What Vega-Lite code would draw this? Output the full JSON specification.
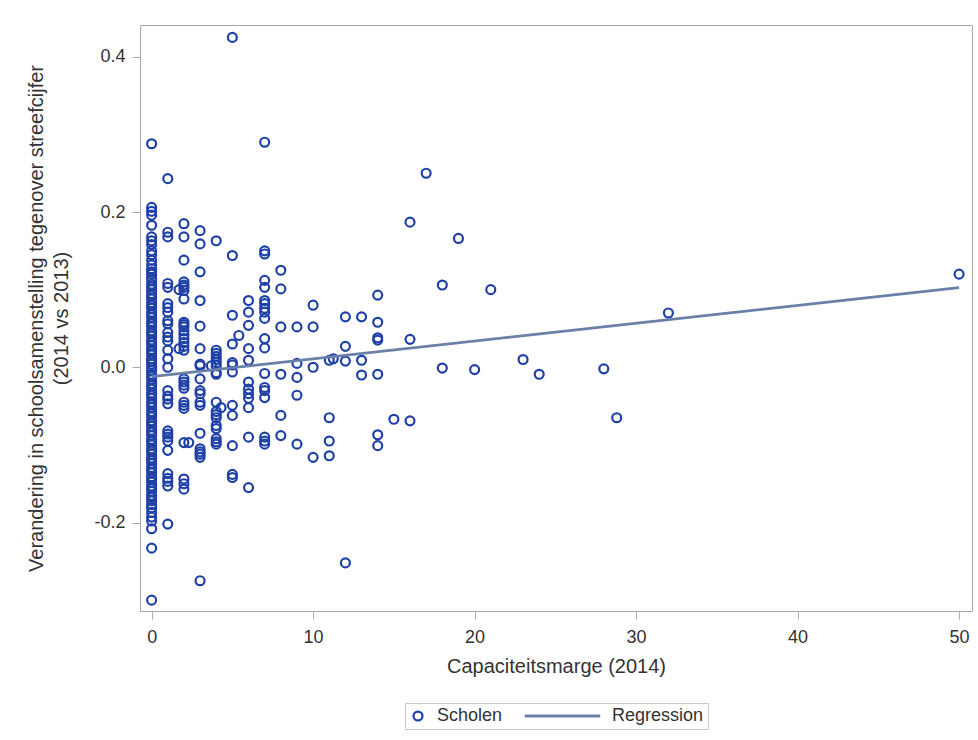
{
  "$schema": "https://vega.github.io/schema/vega-lite/v6.json",
  "width": 832,
  "height": 586,
  "autosize": {"type": "none"},
  "padding": {"left": 140, "top": 25, "right": 6, "bottom": 129},
  "background": "white",
  "config": {
    "font": "Liberation Sans",
    "view": {"stroke": "#a8a8a8", "strokeWidth": 1},
    "axis": {
      "domain": false,
      "grid": false,
      "tickColor": "#a8a8a8",
      "tickSize": 8,
      "labelFontSize": 18,
      "labelColor": "#333333",
      "titleFontSize": 20,
      "titleColor": "#333333",
      "titleFontWeight": "normal"
    },
    "legend": {
      "labelFontSize": 18,
      "labelColor": "#333333",
      "labelFont": "Liberation Sans",
      "clipHeight": 18,
      "layout": {"bottom": {"anchor": "middle"}}
    }
  },
  "datasets": {
    "scholen": [
      {"x":0,"y":0.288},{"x":0,"y":0.206},{"x":0,"y":0.201},{"x":0,"y":0.196},{"x":0,"y":0.183},{"x":0,"y":0.168},{"x":0,"y":0.163},{"x":0,"y":0.158},{"x":0,"y":0.150},{"x":0,"y":0.145},{"x":0,"y":0.138},{"x":0,"y":0.132},{"x":0,"y":0.127},{"x":0,"y":0.123},{"x":0,"y":0.120},{"x":0,"y":0.115},{"x":0,"y":0.112},{"x":0,"y":0.107},{"x":0,"y":0.104},{"x":0,"y":0.100},{"x":0,"y":0.095},{"x":0,"y":0.092},{"x":0,"y":0.088},{"x":0,"y":0.083},{"x":0,"y":0.080},{"x":0,"y":0.076},{"x":0,"y":0.071},{"x":0,"y":0.068},{"x":0,"y":0.064},{"x":0,"y":0.059},{"x":0,"y":0.056},{"x":0,"y":0.052},{"x":0,"y":0.047},{"x":0,"y":0.044},{"x":0,"y":0.040},{"x":0,"y":0.035},{"x":0,"y":0.032},{"x":0,"y":0.028},{"x":0,"y":0.023},{"x":0,"y":0.020},{"x":0,"y":0.016},{"x":0,"y":0.011},{"x":0,"y":0.008},{"x":0,"y":0.004},{"x":0,"y":0.000},{"x":0,"y":-0.004},{"x":0,"y":-0.009},{"x":0,"y":-0.012},{"x":0,"y":-0.016},{"x":0,"y":-0.021},{"x":0,"y":-0.024},{"x":0,"y":-0.028},{"x":0,"y":-0.033},{"x":0,"y":-0.036},{"x":0,"y":-0.040},{"x":0,"y":-0.045},{"x":0,"y":-0.048},{"x":0,"y":-0.052},{"x":0,"y":-0.057},{"x":0,"y":-0.060},{"x":0,"y":-0.064},{"x":0,"y":-0.069},{"x":0,"y":-0.072},{"x":0,"y":-0.076},{"x":0,"y":-0.081},{"x":0,"y":-0.084},{"x":0,"y":-0.088},{"x":0,"y":-0.093},{"x":0,"y":-0.096},{"x":0,"y":-0.100},{"x":0,"y":-0.105},{"x":0,"y":-0.108},{"x":0,"y":-0.112},{"x":0,"y":-0.117},{"x":0,"y":-0.120},{"x":0,"y":-0.124},{"x":0,"y":-0.129},{"x":0,"y":-0.132},{"x":0,"y":-0.136},{"x":0,"y":-0.141},{"x":0,"y":-0.144},{"x":0,"y":-0.148},{"x":0,"y":-0.153},{"x":0,"y":-0.156},{"x":0,"y":-0.160},{"x":0,"y":-0.165},{"x":0,"y":-0.168},{"x":0,"y":-0.172},{"x":0,"y":-0.177},{"x":0,"y":-0.181},{"x":0,"y":-0.187},{"x":0,"y":-0.193},{"x":0,"y":-0.198},{"x":0,"y":-0.208},{"x":0,"y":-0.233},{"x":0,"y":-0.300},
      {"x":1,"y":0.243},{"x":1,"y":0.174},{"x":1,"y":0.168},{"x":1,"y":0.108},{"x":1,"y":0.103},{"x":1,"y":0.082},{"x":1,"y":0.077},{"x":1,"y":0.071},{"x":1,"y":0.060},{"x":1,"y":0.056},{"x":1,"y":0.045},{"x":1,"y":0.039},{"x":1,"y":0.034},{"x":1,"y":0.022},{"x":1,"y":0.011},{"x":1,"y":0.000},{"x":1,"y":-0.030},{"x":1,"y":-0.037},{"x":1,"y":-0.041},{"x":1,"y":-0.047},{"x":1,"y":-0.082},{"x":1,"y":-0.086},{"x":1,"y":-0.090},{"x":1,"y":-0.095},{"x":1,"y":-0.107},{"x":1,"y":-0.137},{"x":1,"y":-0.143},{"x":1,"y":-0.147},{"x":1,"y":-0.153},{"x":1,"y":-0.202},
      {"x":1.7,"y":0.100},{"x":1.7,"y":0.024},
      {"x":2,"y":0.185},{"x":2,"y":0.168},{"x":2,"y":0.138},{"x":2,"y":0.110},{"x":2,"y":0.106},{"x":2,"y":0.103},{"x":2,"y":0.099},{"x":2,"y":0.088},{"x":2,"y":0.058},{"x":2,"y":0.055},{"x":2,"y":0.052},{"x":2,"y":0.047},{"x":2,"y":0.042},{"x":2,"y":0.037},{"x":2,"y":0.032},{"x":2,"y":0.027},{"x":2,"y":0.022},{"x":2,"y":-0.015},{"x":2,"y":-0.019},{"x":2,"y":-0.023},{"x":2,"y":-0.027},{"x":2,"y":-0.045},{"x":2,"y":-0.049},{"x":2,"y":-0.053},{"x":2,"y":-0.097},{"x":2,"y":-0.144},{"x":2,"y":-0.150},{"x":2,"y":-0.157},
      {"x":2.3,"y":-0.097},
      {"x":3,"y":0.176},{"x":3,"y":0.159},{"x":3,"y":0.123},{"x":3,"y":0.086},{"x":3,"y":0.053},{"x":3,"y":0.024},{"x":3,"y":0.004},{"x":3,"y":0.002},{"x":3,"y":-0.015},{"x":3,"y":-0.030},{"x":3,"y":-0.034},{"x":3,"y":-0.045},{"x":3,"y":-0.049},{"x":3,"y":-0.085},{"x":3,"y":-0.105},{"x":3,"y":-0.109},{"x":3,"y":-0.112},{"x":3,"y":-0.116},{"x":3,"y":-0.275},
      {"x":3.7,"y":0.002},
      {"x":4,"y":0.163},{"x":4,"y":0.022},{"x":4,"y":0.018},{"x":4,"y":0.014},{"x":4,"y":0.010},{"x":4,"y":0.006},{"x":4,"y":0.002},{"x":4,"y":-0.007},{"x":4,"y":-0.009},{"x":4,"y":-0.045},{"x":4,"y":-0.057},{"x":4,"y":-0.061},{"x":4,"y":-0.065},{"x":4,"y":-0.075},{"x":4,"y":-0.079},{"x":4,"y":-0.092},{"x":4,"y":-0.096},{"x":4,"y":-0.099},
      {"x":4.3,"y":-0.052},
      {"x":5,"y":0.425},{"x":5,"y":0.144},{"x":5,"y":0.067},{"x":5,"y":0.030},{"x":5,"y":0.006},{"x":5,"y":0.003},{"x":5,"y":-0.006},{"x":5,"y":-0.049},{"x":5,"y":-0.062},{"x":5,"y":-0.101},{"x":5,"y":-0.138},{"x":5,"y":-0.142},
      {"x":5.4,"y":0.041},
      {"x":6,"y":0.086},{"x":6,"y":0.071},{"x":6,"y":0.054},{"x":6,"y":0.024},{"x":6,"y":0.009},{"x":6,"y":-0.019},{"x":6,"y":-0.028},{"x":6,"y":-0.034},{"x":6,"y":-0.040},{"x":6,"y":-0.052},{"x":6,"y":-0.090},{"x":6,"y":-0.155},
      {"x":7,"y":0.290},{"x":7,"y":0.150},{"x":7,"y":0.146},{"x":7,"y":0.112},{"x":7,"y":0.103},{"x":7,"y":0.086},{"x":7,"y":0.082},{"x":7,"y":0.076},{"x":7,"y":0.071},{"x":7,"y":0.063},{"x":7,"y":0.037},{"x":7,"y":0.025},{"x":7,"y":-0.008},{"x":7,"y":-0.026},{"x":7,"y":-0.030},{"x":7,"y":-0.039},{"x":7,"y":-0.090},{"x":7,"y":-0.095},{"x":7,"y":-0.099},
      {"x":8,"y":0.125},{"x":8,"y":0.101},{"x":8,"y":0.052},{"x":8,"y":-0.009},{"x":8,"y":-0.062},{"x":8,"y":-0.088},
      {"x":9,"y":0.052},{"x":9,"y":0.005},{"x":9,"y":-0.013},{"x":9,"y":-0.036},{"x":9,"y":-0.099},
      {"x":10,"y":0.080},{"x":10,"y":0.052},{"x":10,"y":0.000},{"x":10,"y":-0.116},
      {"x":11,"y":0.009},{"x":11,"y":-0.065},{"x":11,"y":-0.095},{"x":11,"y":-0.114},
      {"x":11.25,"y":0.011},
      {"x":12,"y":0.065},{"x":12,"y":0.027},{"x":12,"y":0.008},{"x":12,"y":-0.252},
      {"x":13,"y":0.065},{"x":13,"y":0.009},{"x":13,"y":-0.010},
      {"x":14,"y":0.093},{"x":14,"y":0.058},{"x":14,"y":0.038},{"x":14,"y":0.035},{"x":14,"y":-0.009},{"x":14,"y":-0.087},{"x":14,"y":-0.101},
      {"x":15,"y":-0.067},
      {"x":16,"y":0.187},{"x":16,"y":0.036},{"x":16,"y":-0.069},
      {"x":17,"y":0.250},
      {"x":18,"y":0.106},{"x":18,"y":-0.001},
      {"x":19,"y":0.166},
      {"x":20,"y":-0.003},
      {"x":21,"y":0.100},
      {"x":23,"y":0.010},
      {"x":24,"y":-0.009},
      {"x":28,"y":-0.002},
      {"x":28.8,"y":-0.065},
      {"x":32,"y":0.070},
      {"x":50,"y":0.120}
    ],
    "regression": [
      {"x":0,"y":-0.012},
      {"x":50,"y":0.1025}
    ]
  },
  "layer": [
    {
      "data": {"name": "scholen"},
      "mark": {"type": "point", "filled": false, "opacity": 1},
      "encoding": {
        "x": {
          "field": "x", "type": "quantitative",
          "scale": {"domain": [-0.72, 50.8], "nice": false, "zero": false},
          "axis": {"values": [0,10,20,30,40,50], "format": "d", "title": "Capaciteitsmarge (2014)", "labelPadding": 9, "titlePadding": 10}
        },
        "y": {
          "field": "y", "type": "quantitative",
          "scale": {"domain": [-0.314, 0.441], "nice": false, "zero": false},
          "axis": {
            "values": [-0.2, 0, 0.2, 0.4],
            "labelExpr": "datum.value < 0 ? '-' + format(-datum.value, '.1f') : format(datum.value, '.1f')",
            "labelPadding": 7,
            "title": ["Verandering in schoolsamenstelling tegenover streefcijfer", "(2014 vs 2013)"],
            "titlePadding": 22,
            "titleLineHeight": 25
          }
        },
        "color": {
          "datum": "Scholen",
          "scale": {"domain": ["Scholen", "Regression"], "range": ["#1f41a5", "#6a80a8"]},
          "legend": {
            "title": null,
            "orient": "bottom",
            "direction": "horizontal",
            "offset": 27,
            "strokeColor": "#c8c8c8",
            "padding": 4,
            "columnPadding": 20,
            "labelOffset": 10,
            "clipHeight": 18
          }
        },
        "shape": {
          "datum": "Scholen",
          "scale": {"domain": ["Scholen", "Regression"], "range": ["circle", "stroke"]},
          "legend": {"title": null, "orient": "bottom", "direction": "horizontal", "clipHeight": 18}
        },
        "size": {
          "datum": "Scholen",
          "scale": {"domain": ["Scholen", "Regression"], "range": [80, 5700]},
          "legend": {"title": null, "orient": "bottom", "direction": "horizontal", "clipHeight": 18}
        },
        "strokeWidth": {
          "datum": "Scholen",
          "scale": {"domain": ["Scholen", "Regression"], "range": [2.2, 2.8]},
          "legend": {"title": null, "orient": "bottom", "direction": "horizontal", "clipHeight": 18}
        }
      }
    },
    {
      "data": {"name": "regression"},
      "mark": {"type": "line"},
      "encoding": {
        "x": {"field": "x", "type": "quantitative"},
        "y": {"field": "y", "type": "quantitative"},
        "color": {"datum": "Regression"},
        "strokeWidth": {"datum": "Regression"}
      }
    }
  ]
}
